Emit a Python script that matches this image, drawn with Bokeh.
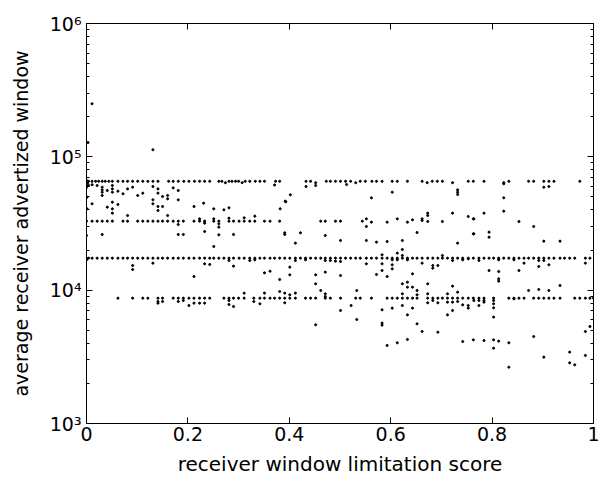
from bokeh.plotting import figure
from bokeh.models import Range1d, LinearAxis, LogAxis, FixedTicker, LogTicker
from bokeh.embed import file_html
from bokeh.resources import INLINE

# (receiver window limitation score, average receiver advertized window)
band_64k = [
    (0.000, 65535), (0.000, 66500), (0.002, 63500), (0.004, 65535), (0.011, 65535), (0.018, 65535),
    (0.024, 65535), (0.031, 65535), (0.037, 65535), (0.044, 65535), (0.051, 65535), (0.062, 65535),
    (0.072, 65535), (0.081, 65535), (0.091, 65535), (0.101, 65535), (0.111, 65535), (0.121, 65535),
    (0.131, 65535), (0.141, 65535), (0.162, 65535), (0.171, 65535), (0.181, 65535), (0.192, 65535),
    (0.202, 65535), (0.213, 65535), (0.223, 65535), (0.233, 65535), (0.243, 65535), (0.261, 65535),
    (0.267, 65535), (0.274, 64000), (0.281, 65535), (0.287, 65535), (0.294, 65535), (0.300, 65535),
    (0.307, 64000), (0.313, 65535), (0.322, 65535), (0.333, 65535), (0.342, 65535), (0.351, 65535),
    (0.373, 65535), (0.381, 65535), (0.433, 65535), (0.442, 65535), (0.452, 64000), (0.473, 65535),
    (0.481, 65535), (0.491, 65535), (0.501, 65535), (0.511, 65535), (0.521, 65535), (0.531, 64000),
    (0.540, 65535), (0.550, 65535), (0.563, 65535), (0.572, 65535), (0.583, 65535), (0.603, 65535),
    (0.613, 65535), (0.633, 65535), (0.662, 65535), (0.672, 64000), (0.682, 65535), (0.692, 65535),
    (0.702, 65535), (0.722, 64000), (0.753, 65535), (0.763, 65535), (0.784, 65535), (0.823, 64000),
    (0.833, 65535), (0.872, 65535), (0.882, 65535), (0.902, 65535), (0.912, 65535), (0.922, 65535),
    (0.973, 65535),
]

upper_scatter = [
    (0.000, 60950), (0.000, 59000), (0.004, 60950), (0.011, 61800), (0.021, 60950), (0.031, 59200),
    (0.031, 56550), (0.031, 54300), (0.031, 51300), (0.041, 55900), (0.051, 60950), (0.051, 57500),
    (0.051, 54300), (0.062, 55250), (0.072, 52800), (0.081, 57500), (0.091, 59200), (0.101, 51300),
    (0.111, 53400), (0.131, 59900), (0.141, 57500), (0.141, 53400), (0.150, 50400), (0.160, 51300),
    (0.171, 58500), (0.181, 55900), (0.181, 47600), (0.131, 47600), (0.131, 44420), (0.141, 42420),
    (0.141, 39580), (0.150, 42420), (0.160, 48400), (0.001, 49840), (0.011, 44420), (0.041, 41930),
    (0.051, 45700), (0.051, 40740), (0.051, 37800), (0.062, 43900), (0.212, 42420), (0.231, 44930),
    (0.251, 40740), (0.001, 40740), (0.433, 59900), (0.452, 60950), (0.402, 51900), (0.392, 46500),
    (0.382, 40740), (0.271, 40040), (0.281, 41450), (0.371, 61500), (0.513, 62000), (0.603, 54300),
    (0.562, 49270), (0.732, 56550), (0.732, 54300), (0.732, 52200), (0.823, 62800), (0.902, 59200),
    (0.912, 59900), (0.823, 49270), (0.823, 39130), (0.784, 37800),
]

band_32k = [
    (0.000, 32920), (0.011, 32920), (0.021, 32920), (0.031, 32920), (0.041, 32920), (0.051, 32920),
    (0.072, 32920), (0.081, 32920), (0.101, 32920), (0.111, 32920), (0.121, 32920), (0.131, 32920),
    (0.141, 32920), (0.150, 32920), (0.160, 32920), (0.171, 32920), (0.181, 32920), (0.191, 32920),
    (0.212, 32920), (0.223, 32920), (0.233, 32920), (0.251, 32920), (0.081, 36300), (0.160, 36300),
    (0.181, 31080), (0.223, 34270), (0.233, 31800), (0.251, 34270), (0.000, 25700), (0.031, 26160),
    (0.181, 26160), (0.191, 26160), (0.233, 27540), (0.251, 21260),
    (0.261, 32920), (0.281, 32920), (0.290, 32920), (0.301, 32920), (0.311, 32920), (0.322, 32920),
    (0.332, 32920), (0.351, 32920), (0.362, 32920), (0.381, 32920), (0.462, 32920), (0.471, 32920),
    (0.491, 32920), (0.501, 32920), (0.261, 31440), (0.261, 29690), (0.281, 34670), (0.311, 34870),
    (0.332, 35900), (0.391, 26920), (0.391, 26160), (0.422, 26920), (0.261, 26000), (0.290, 26160),
    (0.412, 22520), (0.471, 25700), (0.501, 23580), (0.393, 46000),
    (0.544, 32920), (0.552, 34270), (0.552, 30030), (0.562, 32360), (0.593, 32360), (0.613, 34270),
    (0.633, 32360), (0.643, 33690), (0.662, 34270), (0.662, 33300), (0.673, 37800), (0.673, 36300),
    (0.673, 32730), (0.702, 32730), (0.722, 37800), (0.753, 35680), (0.763, 34270), (0.652, 27070),
    (0.763, 26460), (0.732, 22520), (0.552, 23580), (0.572, 22910), (0.593, 23170), (0.623, 23580),
    (0.853, 32730), (0.882, 30030), (0.764, 34270), (0.764, 26460), (0.794, 27230), (0.794, 24980),
    (0.902, 23310), (0.934, 23310),
]

band_17k = [
    (0.000, 17380), (0.000, 16900), (0.004, 17380), (0.011, 17380), (0.021, 17380), (0.031, 17380),
    (0.041, 17380), (0.051, 17380), (0.062, 17380), (0.072, 17380), (0.081, 17380), (0.091, 17380),
    (0.101, 17380), (0.111, 17380), (0.121, 17380), (0.131, 17380), (0.141, 17380), (0.150, 17380),
    (0.160, 17380), (0.171, 17380), (0.181, 17380), (0.191, 17380), (0.202, 17380), (0.212, 17380),
    (0.223, 17380), (0.233, 17380), (0.243, 17380), (0.251, 17380), (0.091, 15310), (0.091, 14290),
    (0.131, 15940), (0.212, 12660), (0.233, 15760), (0.243, 15580),
    (0.261, 17380), (0.271, 17380), (0.281, 17380), (0.290, 17380), (0.301, 17380), (0.311, 17380),
    (0.322, 17380), (0.332, 17380), (0.342, 17380), (0.351, 17380), (0.362, 17380), (0.371, 17380),
    (0.381, 17380), (0.391, 17380), (0.401, 17380), (0.412, 17380), (0.422, 17380), (0.432, 17380),
    (0.442, 17380), (0.452, 17380), (0.462, 17380), (0.471, 17380), (0.481, 17380), (0.491, 17380),
    (0.501, 17380), (0.281, 16690), (0.290, 15140), (0.322, 16690), (0.332, 16890), (0.412, 16690),
    (0.432, 16890), (0.471, 16690), (0.481, 16690), (0.491, 16500), (0.501, 16410), (0.351, 13490),
    (0.362, 13880), (0.401, 14880), (0.401, 13030), (0.381, 12020), (0.452, 13030), (0.452, 11160),
    (0.471, 13650), (0.462, 9940), (0.471, 9390), (0.501, 12880),
    (0.511, 17380), (0.521, 17380), (0.531, 17380), (0.540, 17380), (0.552, 17380), (0.562, 17380),
    (0.572, 17380), (0.583, 17380), (0.593, 17380), (0.603, 17380), (0.613, 17380), (0.623, 17380),
    (0.633, 17380), (0.643, 17380), (0.652, 17380), (0.662, 17380), (0.673, 17380), (0.683, 17380),
    (0.693, 17380), (0.702, 17380), (0.712, 17380), (0.722, 17380), (0.732, 17380), (0.742, 17380),
    (0.753, 17380), (0.763, 17380), (0.552, 15760), (0.583, 18410), (0.583, 15760), (0.603, 16890),
    (0.603, 15490), (0.603, 14450), (0.613, 18950), (0.613, 16890), (0.623, 20180), (0.623, 18200),
    (0.633, 16890), (0.662, 15940), (0.683, 15310), (0.683, 14620), (0.693, 15310), (0.702, 18200),
    (0.722, 16690), (0.742, 16890), (0.753, 17180), (0.572, 13110), (0.583, 14040), (0.593, 12660),
    (0.643, 13260),
    (0.774, 17380), (0.784, 17380), (0.794, 17380), (0.803, 17380), (0.813, 17380), (0.823, 17380),
    (0.833, 17380), (0.843, 17380), (0.853, 17380), (0.863, 17380), (0.872, 17380), (0.882, 17380),
    (0.892, 17380), (0.902, 17380), (0.912, 17380), (0.922, 17380), (0.934, 17380), (0.943, 17380),
    (0.953, 17380), (0.963, 17380), (0.984, 17380), (0.993, 17380), (0.774, 16690), (0.813, 16890),
    (0.843, 16890), (0.863, 15940), (0.892, 16690), (0.892, 15050), (0.902, 16690), (0.912, 15490),
    (0.984, 15940), (0.794, 14040), (0.813, 13800), (0.813, 12160), (0.813, 11680), (0.853, 14040),
]

band_8k = [
    (0.062, 8710), (0.091, 8710), (0.111, 8710), (0.121, 8710), (0.141, 8710), (0.150, 8710),
    (0.171, 8710), (0.181, 8710), (0.191, 8710), (0.202, 8710), (0.212, 8710), (0.223, 8710),
    (0.233, 8710), (0.243, 8710), (0.141, 8220), (0.141, 7990), (0.150, 8220), (0.181, 8220),
    (0.202, 7670), (0.212, 7990), (0.223, 7990), (0.233, 7990), (0.191, 8365),
    (0.271, 8710), (0.281, 8710), (0.290, 8710), (0.300, 8710), (0.311, 8710), (0.330, 8710),
    (0.342, 8710), (0.351, 8710), (0.362, 8710), (0.371, 8710), (0.381, 8710), (0.391, 8710),
    (0.401, 8710), (0.412, 8710), (0.432, 8710), (0.442, 8710), (0.452, 8710), (0.471, 8710),
    (0.481, 8710), (0.501, 8710), (0.281, 8365), (0.281, 7810), (0.290, 7540), (0.311, 9500),
    (0.330, 8220), (0.342, 7900), (0.351, 9500), (0.381, 9770), (0.391, 9500), (0.391, 8040),
    (0.401, 9230), (0.412, 9500), (0.471, 8970), (0.501, 7040), (0.452, 5500),
    (0.531, 8710), (0.540, 8710), (0.562, 8710), (0.593, 8710), (0.603, 8710), (0.613, 8710),
    (0.623, 8710), (0.633, 8710), (0.643, 8710), (0.652, 8710), (0.673, 8710), (0.683, 8710),
    (0.693, 8710), (0.702, 8710), (0.712, 8710), (0.722, 8710), (0.732, 8710), (0.742, 8710),
    (0.753, 8710), (0.763, 8710), (0.533, 9940), (0.623, 11160), (0.633, 11480), (0.633, 10530),
    (0.643, 10530), (0.652, 9940), (0.673, 11160), (0.673, 9390), (0.712, 9390), (0.722, 10720),
    (0.732, 9660), (0.623, 9390), (0.652, 9230), (0.673, 8040), (0.683, 8365), (0.693, 8040),
    (0.712, 8130), (0.722, 8130), (0.732, 8220), (0.742, 7760), (0.753, 7670), (0.753, 7330),
    (0.522, 7670), (0.533, 6030), (0.583, 7120), (0.583, 5660), (0.583, 5465), (0.603, 7330),
    (0.623, 7670), (0.633, 6530), (0.643, 7330), (0.652, 5590), (0.662, 4900), (0.693, 4840),
    (0.712, 6530), (0.722, 7040), (0.593, 3850), (0.613, 4030), (0.633, 4270), (0.742, 4120),
    (0.763, 4240),
    (0.774, 8710), (0.784, 8710), (0.803, 8710), (0.833, 8710), (0.843, 8710), (0.853, 8710),
    (0.863, 8710), (0.882, 8710), (0.892, 8710), (0.902, 8710), (0.912, 8710), (0.922, 8710),
    (0.934, 8710), (0.963, 8710), (0.973, 8710), (0.984, 8710), (0.993, 8710), (1.000, 8710),
    (0.764, 8365), (0.774, 8365), (0.774, 7670), (0.784, 8365), (0.784, 8130), (0.803, 8365),
    (0.803, 7900), (0.803, 7370), (0.803, 6280), (0.843, 8610), (0.872, 9940), (0.892, 10120),
    (0.912, 9940), (0.934, 10840), (0.784, 4190), (0.803, 4240), (0.813, 4145), (0.833, 4030),
    (0.803, 3670), (0.882, 4490), (0.833, 2645), (0.902, 3145), (0.953, 3430), (0.953, 2850),
    (0.963, 2755), (0.984, 3240), (0.984, 4900), (0.993, 5340),
]

outliers = [(0.011, 250000), (0.003, 128000), (0.131, 113000)]

x_ticks = [0, 0.2, 0.4, 0.6, 0.8, 1]
x_tick_labels = ["0", "0.2", "0.4", "0.6", "0.8", "1"]
y_ticks = [1e3, 1e4, 1e5, 1e6]
y_tick_labels = ["10³", "10⁴", "10⁵", "10⁶"]

groups = [band_64k, upper_scatter, band_32k, band_17k, band_8k, outliers]
score = [pt[0] for g in groups for pt in g]
window = [pt[1] for g in groups for pt in g]

FONT = "DejaVu Sans"

p = figure(width=600, height=483, y_axis_type="log",
           x_range=Range1d(0, 1), y_range=Range1d(1e3, 1e6),
           output_backend="svg", toolbar_location=None,
           min_border_left=86, min_border_right=7, min_border_top=23, min_border_bottom=60)

p.scatter(score, window, marker="circle", size=2.1, color="black", line_color="black")

p.xgrid.visible = False
p.ygrid.visible = False
p.outline_line_color = "black"
p.outline_line_width = 1
p.background_fill_color = "white"
p.border_fill_color = "white"

xa = p.xaxis[0]
xa.ticker = FixedTicker(ticks=x_ticks)
xa.major_label_overrides = {t: l for t, l in zip(x_ticks, x_tick_labels)}
xa.axis_label = "receiver window limitation score"
ya = p.yaxis[0]
ya.ticker = LogTicker(desired_num_ticks=4, num_minor_ticks=10)
ya.major_label_overrides = {t: l for t, l in zip(y_ticks, y_tick_labels)}
ya.axis_label = "average receiver advertized window"

for ax in (xa, ya):
    ax.axis_line_color = "black"
    ax.major_tick_in = 6
    ax.major_tick_out = 0
    ax.minor_tick_in = 3
    ax.minor_tick_out = 0
    ax.major_label_text_font = FONT
    ax.major_label_text_font_size = "19px"
    ax.major_label_text_color = "black"
    ax.axis_label_text_font = FONT
    ax.axis_label_text_font_style = "normal"
    ax.axis_label_text_color = "black"

xa.axis_label_text_font_size = "20px"
ya.axis_label_text_font_size = "19px"
xa.minor_tick_line_color = None
xa.major_label_standoff = 3
xa.axis_label_standoff = 8
ya.major_label_standoff = 5
ya.axis_label_standoff = 15

top = LinearAxis(ticker=FixedTicker(ticks=x_ticks),
                 major_label_overrides={t: "" for t in x_ticks},
                 major_tick_in=6, major_tick_out=0, minor_tick_line_color=None,
                 major_label_standoff=0)
right = LogAxis(ticker=LogTicker(desired_num_ticks=4, num_minor_ticks=10),
                major_label_overrides={t: "" for t in y_ticks},
                major_tick_in=6, major_tick_out=0,
                minor_tick_in=3, minor_tick_out=0, major_label_standoff=0)
p.add_layout(top, "above")
p.add_layout(right, "right")

open("out.html", "w").write(file_html(p, INLINE))
